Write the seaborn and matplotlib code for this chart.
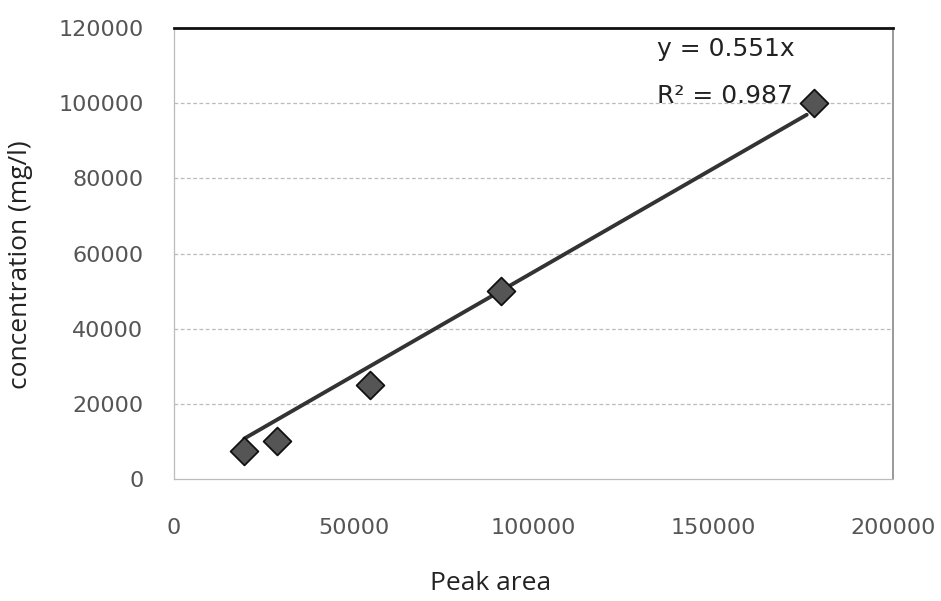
import numpy as np
import pandas as pd
import matplotlib
matplotlib.use("Agg")
import matplotlib.pyplot as plt
import seaborn as sns

# Data
peak_area = [19500, 28500, 54500, 91000, 178000]
concentration = [7500, 10000, 25000, 50000, 100000]
slope = 0.551
x_ticks = [0, 50000, 100000, 150000, 200000]
y_ticks = [0, 20000, 40000, 60000, 80000, 100000, 120000]
eq_text = "y = 0.551x"
r2_text = "R² = 0.987"

df = pd.DataFrame({"Peak area": peak_area, "concentration": concentration})
trend = pd.DataFrame({"x": [min(peak_area), max(peak_area) - 2000]})
trend["y"] = slope * trend["x"]

sns.set_theme(style="white")
plt.rcParams["font.family"] = ["DejaVu Sans"]

fig = plt.figure(figsize=(9.41, 6.01), dpi=100)
ax = fig.add_axes([0.185, 0.203, 0.764, 0.750])

sns.lineplot(data=trend, x="x", y="y", ax=ax, color="#333333", linewidth=2.8, zorder=3)
sns.scatterplot(data=df, x="Peak area", y="concentration", ax=ax, marker="D",
                s=200, color="#555555", edgecolor="#111111", linewidth=1.3, zorder=4)

ax.set_xlim(0, 200000)
ax.set_ylim(0, 120000)
ax.set_xticks(x_ticks)
ax.set_yticks(y_ticks)
ax.set_xticklabels([str(v) for v in x_ticks])
ax.set_yticklabels([str(v) for v in y_ticks])

for y in y_ticks[1:-1]:
    ax.axhline(y, color="#bbbbbb", linewidth=0.9, linestyle=(0, (3, 2)), zorder=1)

ax.tick_params(axis="both", which="both", direction="out", length=4, width=0.8,
               color="#aaaaaa", labelcolor="#555555", labelsize=16)
ax.tick_params(axis="x", pad=24)
ax.tick_params(axis="y", pad=18)

ax.spines["top"].set_color("#111111")
ax.spines["top"].set_linewidth(2.0)
ax.spines["right"].set_color("#888888")
ax.spines["right"].set_linewidth(1.2)
ax.spines["left"].set_color("#bbbbbb")
ax.spines["left"].set_linewidth(0.9)
ax.spines["bottom"].set_color("#bbbbbb")
ax.spines["bottom"].set_linewidth(0.9)

ax.set_xlabel("Peak area", fontsize=19, color="#222222", family=["Open Sans", "DejaVu Sans"])
ax.set_ylabel("concentration (mg/l)", fontsize=19, color="#222222", family=["Open Sans", "DejaVu Sans"])
ax.xaxis.set_label_coords(0.44, -0.205)
ax.yaxis.set_label_coords(-0.196, 0.475)

ax.text(0.672, 0.953, eq_text, transform=ax.transAxes, fontsize=18, color="#222222",
        ha="left", va="center")
ax.text(0.672, 0.85, r2_text, transform=ax.transAxes, fontsize=18, color="#222222",
        ha="left", va="center")

fig.savefig("out.png", dpi=100, facecolor="white")
